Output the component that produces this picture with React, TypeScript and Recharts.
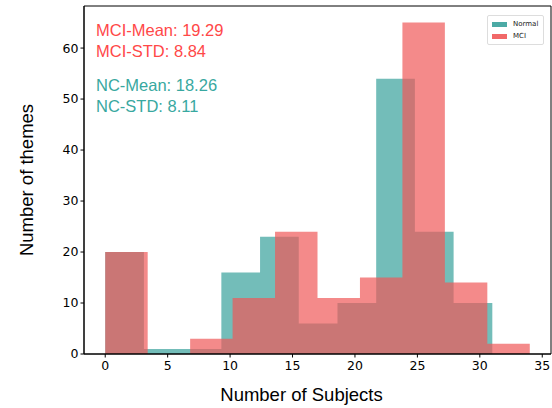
import React from "react";
import {
  ComposedChart,
  Area,
  XAxis,
  YAxis,
  ReferenceArea,
  Label,
} from "recharts";

// histogram bins (10 bins each)
const normalEdges = [0, 3.1, 6.2, 9.3, 12.4, 15.5, 18.6, 21.7, 24.8, 27.9, 31];
const normalCounts = [20, 1, 1, 16, 23, 6, 10, 54, 24, 10];
const mciEdges = [0, 3.4, 6.8, 10.2, 13.6, 17, 20.4, 23.8, 27.2, 30.6, 34];
const mciCounts = [20, 0, 3, 11, 24, 11, 15, 65, 14, 2];

const xTicks = [0, 5, 10, 15, 20, 25, 30, 35];
const yTicks = [0, 10, 20, 30, 40, 50, 60];

const mciStats = ["MCI-Mean: 19.29", "MCI-STD: 8.84"];
const ncStats = ["NC-Mean: 18.26", "NC-STD: 8.11"];
const seriesNames = ["Normal", "MCI"];

const TEAL = "rgb(56,161,155)";
const RED = "rgb(239,88,88)";
const ALPHA = 0.7;

const countAt = (edges: number[], counts: number[], x: number) => {
  for (let i = 0; i < counts.length; i++) {
    if (x >= edges[i] && x < edges[i + 1]) return counts[i];
  }
  return 0;
};

const xs = Array.from(new Set([...normalEdges, ...mciEdges])).sort((a, b) => a - b);
const rows = xs.map((x) => ({
  x,
  normal: countAt(normalEdges, normalCounts, x),
  mci: countAt(mciEdges, mciCounts, x),
}));

const sans = "'Liberation Sans', Arial, sans-serif";
const dejavu = "'DejaVu Sans', sans-serif";

// legend drawn as plain html so it doesn't eat plot space
const LegendBox = () => (
  <div
    style={{
      position: "absolute",
      left: 487,
      top: 15,
      border: "1px solid #ddd",
      borderRadius: 2,
      background: "#fff",
      padding: "2px 5px 2px 4px",
      fontFamily: dejavu,
      fontSize: 7,
      color: "#222",
    }}
  >
    {seriesNames.map((name, i) => (
      <div key={name} style={{ display: "flex", alignItems: "center", height: 12 }}>
        <div
          style={{
            width: 15,
            height: 5,
            marginRight: 6,
            background: i === 0 ? TEAL : RED,
            opacity: 0.9,
          }}
        />
        <span>{name}</span>
      </div>
    ))}
  </div>
);

export default function App() {
  return (
    <div style={{ position: "absolute", left: 0, top: 0, width: 552, height: 408, background: "#fff" }}>
      <ComposedChart
        width={552}
        height={408}
        data={rows}
        margin={{ top: 6, right: 1, bottom: 0, left: 0 }}
      >
        <XAxis
          type="number"
          dataKey="x"
          domain={[-1.7, 35.7]}
          ticks={xTicks}
          allowDataOverflow
          height={54}
          tickSize={3.5}
          axisLine={{ stroke: "#000" }}
          tickLine={{ stroke: "#000" }}
          tick={{ fill: "#000", fontSize: 12.5, fontFamily: dejavu, dy: 2 }}
        >
          <Label
            value="Number of Subjects"
            position="insideBottom"
            offset={7}
            dx={-16}
            style={{ fill: "#000", fontSize: 18.5, fontFamily: sans }}
          />
        </XAxis>
        <YAxis
          type="number"
          domain={[0, 68.25]}
          ticks={yTicks}
          allowDataOverflow
          width={84}
          tickSize={3.5}
          axisLine={{ stroke: "#000" }}
          tickLine={{ stroke: "#000" }}
          tick={{ fill: "#000", fontSize: 12.5, fontFamily: dejavu }}
        >
          <Label
            value="Number of themes"
            angle={-90}
            position="insideLeft"
            offset={26}
            style={{ fill: "#000", fontSize: 18.5, fontFamily: sans, textAnchor: "middle" }}
          />
        </YAxis>
        <Area
          type="stepAfter"
          dataKey="normal"
          stroke="none"
          fill={TEAL}
          fillOpacity={ALPHA}
          isAnimationActive={false}
          activeDot={false}
        />
        <Area
          type="stepAfter"
          dataKey="mci"
          stroke="none"
          fill={RED}
          fillOpacity={ALPHA}
          isAnimationActive={false}
          activeDot={false}
        />
        <ReferenceArea x1={-1.7} x2={35.7} y1={0} y2={68.25} fill="none" stroke="#000" strokeWidth={1} ifOverflow="visible" />
      </ComposedChart>
      <LegendBox />
      <div style={{ position: "absolute", left: 96, top: 20, fontFamily: sans, fontSize: 16.5, lineHeight: "20.5px", color: "rgb(255,72,72)" }}>
        {mciStats.map((s) => (
          <div key={s}>{s}</div>
        ))}
      </div>
      <div style={{ position: "absolute", left: 96, top: 75, fontFamily: sans, fontSize: 16.5, lineHeight: "20.5px", color: "rgb(56,168,160)" }}>
        {ncStats.map((s) => (
          <div key={s}>{s}</div>
        ))}
      </div>
    </div>
  );
}
